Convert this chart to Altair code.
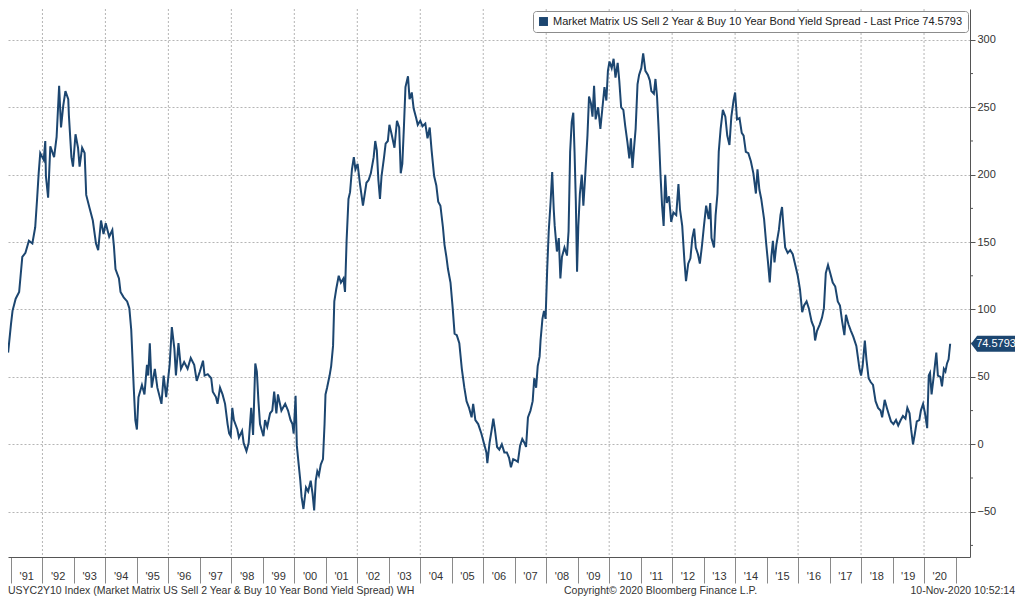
import altair as alt
import pandas as pd

# ---- data (fractional year, spread in bp) ----
tA = [1990.91, 1991.00, 1991.05, 1991.15, 1991.26, 1991.36, 1991.46, 1991.57, 1991.68, 1991.77, 1991.83, 1991.88, 1991.93,
      1992.04, 1992.09, 1992.11, 1992.18, 1992.25, 1992.37, 1992.45, 1992.53, 1992.59, 1992.66, 1992.73, 1992.82, 1992.84, 1992.92, 1992.97,
      1993.05, 1993.13, 1993.18, 1993.26, 1993.34, 1993.39, 1993.50, 1993.60, 1993.70, 1993.77, 1993.86, 1993.94,
      1994.01, 1994.12, 1994.22, 1994.27, 1994.32, 1994.43, 1994.48, 1994.58, 1994.69, 1994.76, 1994.82, 1994.90, 1994.95,
      1995.00, 1995.05, 1995.16, 1995.24, 1995.32, 1995.36, 1995.41, 1995.47, 1995.57, 1995.65, 1995.78, 1995.85, 1995.93,
      1996.04, 1996.11, 1996.19, 1996.24, 1996.32, 1996.40, 1996.50, 1996.61, 1996.71, 1996.82, 1996.90]
vA = [68, 89, 99, 108, 113, 139, 142, 151, 149, 161, 182, 201, 216,
      211, 225, 199, 183, 221, 213, 228, 266, 235, 251, 262, 256, 244, 213, 206,
      230, 220, 206, 220, 216, 185, 175, 166, 149, 144, 166, 156,
      164, 154, 159, 147, 130, 123, 113, 109, 106, 101, 85, 42, 18,
      11, 35, 44, 37, 59, 51, 75, 42, 56, 42, 30, 51, 35,
      59, 87, 71, 51, 75, 56, 61, 56, 64, 59, 47]

tB = [1997.00, 1997.10, 1997.15, 1997.25, 1997.36, 1997.41, 1997.51, 1997.56, 1997.64, 1997.72, 1997.80, 1997.88, 1997.93, 1997.98,
      1998.03, 1998.08, 1998.19, 1998.24, 1998.34, 1998.39, 1998.48, 1998.55, 1998.63, 1998.69, 1998.76, 1998.81, 1998.86, 1998.91,
      1999.02, 1999.07, 1999.14, 1999.23, 1999.30, 1999.36, 1999.43, 1999.48, 1999.59, 1999.71, 1999.80, 1999.88, 1999.94, 1999.98,
      2000.04, 2000.08, 2000.13, 2000.19, 2000.23, 2000.29, 2000.37, 2000.44, 2000.52, 2000.58, 2000.63, 2000.68, 2000.73, 2000.78,
      2000.84, 2000.91, 2000.96, 2000.99,
      2001.04, 2001.12, 2001.17, 2001.23, 2001.27, 2001.33, 2001.41, 2001.48, 2001.56, 2001.61, 2001.66, 2001.72, 2001.77, 2001.83,
      2001.89, 2001.94,
      2002.01, 2002.08, 2002.18, 2002.29]
vB = [54, 62, 51, 52, 49, 39, 35, 30, 42, 37, 30, 15, 8, 6,
      27, 18, 11, 5, 10, 1, -5, 1, 27, 7, 60, 54, 32, 15,
      6, 18, 13, 23, 25, 39, 23, 37, 25, 30, 25, 18, 15, 8,
      36, -1, -13, -27, -39, -48, -32, -35, -27, -37, -49, -27, -20, -23, -15, -11, 15, 37,
      42, 51, 58, 73, 106, 115, 125, 120, 123, 113, 151, 182, 187, 204, 213, 204,
      208, 194, 177, 194]

tC = [2002.36, 2002.43, 2002.52, 2002.57, 2002.62, 2002.67, 2002.72, 2002.77, 2002.85, 2002.90, 2002.97,
      2003.02, 2003.09, 2003.18, 2003.26, 2003.33, 2003.38, 2003.43, 2003.48, 2003.53, 2003.61, 2003.66, 2003.73, 2003.79, 2003.87, 2003.92,
      2004.00, 2004.07, 2004.16, 2004.23, 2004.30, 2004.36, 2004.44, 2004.51, 2004.57, 2004.64, 2004.72, 2004.77, 2004.83, 2004.88, 2004.96,
      2005.03, 2005.09, 2005.16, 2005.24, 2005.32, 2005.40, 2005.47, 2005.55, 2005.63, 2005.68, 2005.75, 2005.84, 2005.94,
      2006.02, 2006.10, 2006.13, 2006.20, 2006.27, 2006.32, 2006.37, 2006.44, 2006.51, 2006.59, 2006.67, 2006.75, 2006.82, 2006.88, 2006.95,
      2007.03, 2007.10, 2007.17, 2007.24, 2007.31, 2007.36, 2007.42, 2007.50, 2007.57, 2007.62, 2007.68, 2007.73, 2007.79]
vC = [196, 201, 213, 225, 218, 196, 182, 199, 213, 223, 225,
      237, 230, 220, 240, 235, 201, 208, 235, 265, 273, 256, 261, 249, 242, 237,
      240, 236, 238, 227, 235, 218, 199, 192, 180, 177, 161, 148, 139, 130, 120,
      101, 82, 81, 75, 56, 42, 32, 27, 20, 30, 18, 15, 8,
      1, -6, -14, 1, 11, 19, 11, -2, -4, 0, -6, -6, -10, -17, -11,
      -12, -13, -1, 4, 1, -2, 20, 25, 32, 49, 42, 58, 65]

tD = [2007.82, 2007.88, 2007.93, 2007.98,
      2008.03, 2008.08, 2008.14, 2008.19, 2008.24, 2008.27, 2008.34, 2008.40, 2008.45, 2008.50, 2008.58, 2008.66, 2008.71, 2008.76,
      2008.81, 2008.86, 2008.90, 2008.94, 2008.98,
      2009.02, 2009.07, 2009.13, 2009.18, 2009.23, 2009.31, 2009.36, 2009.42, 2009.47, 2009.52, 2009.57, 2009.65, 2009.72, 2009.80,
      2009.85, 2009.91, 2009.96,
      2010.01, 2010.08, 2010.14, 2010.20, 2010.27, 2010.32, 2010.38, 2010.45, 2010.51, 2010.58, 2010.64, 2010.69, 2010.74, 2010.79,
      2010.84, 2010.90, 2010.95,
      2011.02, 2011.08, 2011.15, 2011.23, 2011.29, 2011.34, 2011.42, 2011.47, 2011.52, 2011.57, 2011.63, 2011.68, 2011.73, 2011.78,
      2011.83, 2011.90, 2011.97,
      2012.04, 2012.13, 2012.20, 2012.25, 2012.32, 2012.39, 2012.44, 2012.51, 2012.58, 2012.64, 2012.70, 2012.75, 2012.82, 2012.88, 2012.95,
      2013.01, 2013.08, 2013.16, 2013.21]
vD = [77, 93, 99, 93,
      129, 158, 180, 202, 174, 162, 143, 153, 123, 139, 146, 140, 158, 217, 239, 246, 217, 181, 128,
      162, 186, 200, 177, 196, 229, 258, 253, 243, 266, 241, 250, 234, 253, 265, 255, 277,
      284, 279, 286, 272, 283, 270, 250, 248, 236, 224, 212, 227, 205, 220, 234, 267, 274,
      279, 290, 277, 274, 270, 262, 260, 271, 258, 234, 200, 177, 162, 200, 179, 184, 165,
      172, 170, 193, 174, 162, 136, 121, 134, 138, 153, 160, 146, 141, 134, 148,
      162, 177, 167, 179]

tE = [2013.25, 2013.33, 2013.38, 2013.44, 2013.48, 2013.54, 2013.61, 2013.69, 2013.75, 2013.82, 2013.88, 2013.95,
      2014.00, 2014.06, 2014.14, 2014.21, 2014.27, 2014.34, 2014.42, 2014.50, 2014.58, 2014.66, 2014.71, 2014.77, 2014.83, 2014.92, 2014.99,
      2015.04, 2015.10, 2015.15, 2015.20, 2015.25, 2015.31, 2015.39, 2015.44, 2015.49, 2015.54, 2015.59, 2015.67, 2015.75, 2015.83,
      2015.92, 2015.99,
      2016.06, 2016.13, 2016.19, 2016.27, 2016.34, 2016.43, 2016.50, 2016.54, 2016.60, 2016.69, 2016.76, 2016.82, 2016.88, 2016.95,
      2017.02, 2017.10, 2017.18, 2017.26, 2017.33, 2017.40, 2017.47, 2017.52, 2017.60, 2017.68, 2017.75, 2017.85, 2017.95,
      2018.00, 2018.05, 2018.12, 2018.17, 2018.24, 2018.31, 2018.38, 2018.46, 2018.54, 2018.62, 2018.67, 2018.75, 2018.82, 2018.87, 2018.95,
      2019.03, 2019.11, 2019.18, 2019.26, 2019.33, 2019.41, 2019.47, 2019.54, 2019.59, 2019.65, 2019.71, 2019.77, 2019.85, 2019.90, 2019.97,
      2020.03, 2020.10, 2020.15, 2020.19, 2020.24, 2020.31, 2020.39, 2020.44, 2020.52, 2020.57, 2020.63, 2020.68, 2020.73, 2020.78, 2020.83]
vE = [153, 146, 170, 186, 217, 234, 248, 243, 229, 222, 243, 255,
      261, 241, 242, 231, 229, 217, 216, 210, 201, 186, 204, 189, 182, 167, 148,
      136, 120, 139, 151, 135, 148, 159, 170, 176, 160, 146, 142, 144, 141, 132, 125,
      115, 98, 103, 106, 101, 91, 87, 77, 84, 89, 94, 101, 127, 133,
      127, 120, 117, 106, 103, 91, 81, 96, 89, 84, 80, 73, 56,
      51, 58, 77, 63, 49, 46, 44, 32, 27, 25, 20, 33, 27, 23, 17,
      15, 18, 14, 18, 21, 19, 27, 23, 11, 0, 8, 17, 18, 25, 30,
      23, 12, 51, 53, 37, 51, 68, 51, 50, 43, 56, 54, 60, 63, 74.5793]

year_bounds = list(range(1991, 2022))
year_mids = [y + 0.5 for y in range(1991, 2021)]
year_labels = ["'91", "'92", "'93", "'94", "'95", "'96", "'97", "'98", "'99", "'00",
               "'01", "'02", "'03", "'04", "'05", "'06", "'07", "'08", "'09", "'10",
               "'11", "'12", "'13", "'14", "'15", "'16", "'17", "'18", "'19", "'20"]
grid_years = list(range(1992, 2021, 2))
y_major = [-50, 0, 50, 100, 150, 200, 250, 300]
y_minor = [-75, -25, 25, 75, 125, 175, 225, 275]

series_name = "Market Matrix US Sell 2 Year & Buy 10 Year Bond Yield Spread - Last Price 74.5793"
footer_left = "USYC2Y10 Index (Market Matrix US Sell 2 Year & Buy 10 Year Bond Yield Spread) WH"
footer_mid = "Copyright\u00a9 2020 Bloomberg Finance L.P."
footer_right = "10-Nov-2020 10:52:14"

t_all = tA + tB + tC + tD + tE
v_all = vA + vB + vC + vD + vE
assert len(t_all) == len(v_all)
df = pd.DataFrame({"t": t_all, "v": v_all, "series": series_name})

# ---- layout ----
W, H = 962, 548
NAVY = "#1c4670"
FONT = "Liberation Sans"
GRID = "#b5b5b5"

xs = alt.Scale(domain=[1990.906, 2021.46], nice=False, zero=False)
ys = alt.Scale(domain=[-83.6, 322.9], nice=False, zero=False)

xaxis = alt.Axis(values=year_bounds, tickSize=26, labels=False, grid=False,
                 domainColor="#555", tickColor="#8a8a8a", domainWidth=1, tickWidth=1)
yaxis = alt.Axis(orient="right", values=y_major, tickSize=5, grid=True, gridDash=[2, 2],
                 gridColor=GRID, domainColor="#555", tickColor="#555", labelFontSize=11,
                 labelColor="#333", labelPadding=2, labelFont=FONT)

X = lambda f: alt.X(f, scale=xs, axis=xaxis, title=None)
Y = lambda f: alt.Y(f, scale=ys, axis=yaxis, title=None)

vgrid = alt.Chart(pd.DataFrame({"t": grid_years})).mark_rule(
    color=GRID, strokeDash=[2, 2], strokeWidth=1).encode(x=X("t:Q"))

line = alt.Chart(df).mark_line(strokeWidth=2, clip=True).encode(
    x=X("t:Q"),
    y=Y("v:Q"),
    color=alt.Color("series:N", scale=alt.Scale(domain=[series_name], range=[NAVY]), title=None,
                    legend=alt.Legend(orient="top-right", offset=2, symbolType="square", symbolSize=80,
                                      symbolFillColor=NAVY, symbolStrokeColor=NAVY, symbolStrokeWidth=0,
                                      labelFontSize=11, labelColor="#222", labelFont=FONT, labelLimit=0,
                                      padding=5, fillColor="white", strokeColor="#8c8c8c", cornerRadius=3)),
)

minor = alt.Chart(pd.DataFrame({"v": y_minor})).mark_rule(color="#555").encode(
    y=Y("v:Q"), x=alt.value(W), x2=alt.value(W + 3))

last = pd.DataFrame({"v": [v_all[-1]], "lab": [f"{v_all[-1]:.4f}"]})
box = alt.Chart(last).mark_point(
    shape="M-1,0L-0.72,-0.36L1,-0.36L1,0.36L-0.72,0.36Z", size=1936, filled=True,
    color=NAVY, opacity=1, strokeWidth=0).encode(x=alt.value(W + 23), y=Y("v:Q"))
box_text = alt.Chart(last).mark_text(color="white", fontSize=11, font=FONT, align="center",
                                     baseline="middle").encode(x=alt.value(W + 26), y=Y("v:Q"), text="lab:N")

ylabels = alt.Chart(pd.DataFrame({"t": year_mids, "lab": year_labels})).mark_text(
    fontSize=11, font=FONT, color="#333", baseline="middle", align="center").encode(
    x=X("t:Q"), y=alt.value(H + 20), text="lab:N")


def note(txt, x, align):
    return alt.Chart(alt.Data(values=[{}])).mark_text(
        text=txt, align=align, baseline="middle", fontSize=10.5, font=FONT, color="#333").encode(
        x=alt.value(x), y=alt.value(H + 34))


chart = alt.layer(
    vgrid, line, minor, box, box_text, ylabels,
    note(footer_left, 0, "left"), note(footer_mid, 556, "left"), note(footer_right, W + 45, "right"),
).properties(width=W, height=H, padding=0).configure(font=FONT).configure_view(stroke=None)

chart.save("out.html", embed_options={"renderer": "svg", "actions": False})
